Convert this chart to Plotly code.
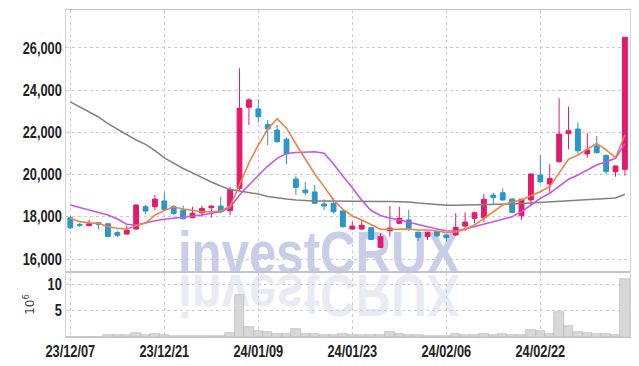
import plotly.graph_objects as go

dates = ["23/12/07", "23/12/08", "23/12/11", "23/12/12", "23/12/13", "23/12/14", "23/12/15",
         "23/12/18", "23/12/19", "23/12/20", "23/12/21", "23/12/22", "23/12/26", "23/12/27",
         "23/12/28", "24/01/02", "24/01/03", "24/01/04", "24/01/05", "24/01/08", "24/01/09",
         "24/01/10", "24/01/11", "24/01/12", "24/01/15", "24/01/16", "24/01/17", "24/01/18",
         "24/01/19", "24/01/22", "24/01/23", "24/01/24", "24/01/25", "24/01/26", "24/01/29",
         "24/01/30", "24/01/31", "24/02/01", "24/02/02", "24/02/05", "24/02/06", "24/02/07",
         "24/02/08", "24/02/13", "24/02/14", "24/02/15", "24/02/16", "24/02/19", "24/02/20",
         "24/02/21", "24/02/22", "24/02/23", "24/02/26", "24/02/27", "24/02/28", "24/02/29",
         "24/03/04", "24/03/05", "24/03/06", "24/03/07"]

open_ = [17950, 17640, 17580, 17720, 17670, 17250, 17180, 17420, 18480, 18480,
         18750, 18480, 18320, 17960, 18190, 18430, 18510, 18290, 19350, 23190,
         23110, 22380, 22110, 21680, 19790, 19270, 19180, 18610, 18640, 18280,
         17420, 17420, 17480, 16550, 17340, 17690, 17850, 17270, 17060, 17290,
         17140, 17140, 17560, 17930, 17960, 19030, 19140, 18840, 18050, 18800,
         19980, 19550, 20610, 21940, 22160, 20980, 21360, 20910, 20140, 20250]
high = [18040, 17700, 17860, 17750, 17700, 17330, 17580, 18580, 18570, 19030,
        19160, 18560, 18530, 18480, 18530, 18540, 18950, 19430, 25040, 23620,
        23570, 22590, 22350, 21760, 19950, 19660, 19510, 18830, 18880, 18290,
        17770, 17880, 17530, 17220, 18510, 18480, 18320, 17300, 17300, 17340,
        17180, 18170, 18210, 18250, 19070, 19140, 19350, 18890, 18860, 20050,
        20930, 20490, 23620, 23220, 22480, 21960, 21830, 20960, 20430, 26510]
low = [17420, 17520, 17550, 17410, 17050, 17040, 17160, 17380, 18130, 18320,
       18320, 18080, 17870, 17920, 18000, 17960, 18180, 18070, 19270, 22350,
       22460, 21400, 21510, 20490, 19030, 19030, 18600, 18320, 18160, 17490,
       17380, 17380, 16900, 16520, 17060, 17650, 17330, 16870, 16900, 17040,
       16820, 17090, 17330, 17690, 17770, 18560, 18750, 18160, 17850, 18560,
       19590, 19110, 20570, 21200, 20980, 20800, 20990, 20030, 19900, 19950]
close = [17480, 17600, 17670, 17640, 17060, 17120, 17370, 18560, 18270, 18840,
         18350, 18160, 17910, 18170, 18400, 18510, 18240, 19300, 23140, 23540,
         22740, 22160, 21560, 20980, 19390, 19140, 18640, 18510, 18240, 17530,
         17560, 17600, 16930, 17060, 17470, 17930, 17460, 17030, 17270, 17100,
         17010, 17500, 17750, 18190, 18830, 18910, 18800, 18210, 18830, 20030,
         19660, 19820, 21920, 22080, 21130, 21170, 21040, 20140, 20410, 26510]

ma_short = [17930, 17770, 17720, 17690, 17530, 17455, 17420, 17580, 17700, 18080,
            18300, 18460, 18370, 18290, 18240, 18240, 18275, 18500, 19550, 20550,
            21400, 22150, 22650, 22200, 21450, 20720, 20030, 19430, 18800, 18350,
            18040, 17850, 17610, 17410, 17410, 17430, 17420, 17375, 17375, 17330,
            17250, 17280, 17410, 17610, 17930, 18240, 18560, 18700, 18800, 19000,
            19190, 19430, 20060, 20720, 20930, 21200, 21480, 21170, 20800, 21880]
ma_mid = [18560, 18450, 18320, 18210, 18085, 17895, 17645, 17610, 17720, 17815,
          17880, 17930, 17967, 18040, 18085, 18166, 18242, 18441, 19033, 19507,
          19981, 20407, 20772, 21000, 21047, 21071, 21085, 21009, 20502, 19920,
          19380, 18780, 18298, 18061, 17929, 17848, 17739, 17611, 17502, 17422,
          17341, 17327, 17422, 17531, 17659, 17767, 17881, 18005, 18242, 18559,
          18876, 19114, 19426, 19777, 19981, 20218, 20455, 20611, 20772, 21483]
ma_long = [23450, 23200, 22970, 22730, 22420, 22160, 21880, 21640, 21430, 21140,
           20790, 20530, 20290, 20080, 19860, 19650, 19460, 19290, 19220, 19150,
           19080, 18960, 18890, 18840, 18800, 18770, 18750, 18750, 18740, 18740,
           18730, 18730, 18720, 18720, 18720, 18715, 18700, 18650, 18610, 18570,
           18545, 18545, 18550, 18560, 18570, 18580, 18590, 18605, 18625, 18650,
           18680, 18700, 18725, 18750, 18770, 18800, 18820, 18850, 18890, 19070]

volume = [0.05, 0.05, 0.05, 0.05, 0.3, 0.3, 0.3, 0.75, 0.3, 0.55,
          0.3, 0.2, 0.2, 0.2, 0.2, 0.2, 0.2, 0.75, 8.0, 1.8,
          1.2, 0.9, 0.55, 0.55, 1.5, 0.55, 0.5, 0.35, 0.3, 0.5,
          0.35, 0.3, 0.3, 0.3, 0.9, 0.6, 0.3, 0.3, 0.1, 0.1,
          0.1, 0.5, 0.35, 0.35, 0.6, 0.35, 0.5, 0.3, 0.3, 1.4,
          1.2, 0.5, 4.75, 2.0, 1.0, 0.75, 0.55, 0.5, 0.35, 11.05]

tick_idx = [0, 10, 20, 30, 40, 50]
tick_dates = [dates[i] for i in tick_idx]
price_ticks = [16000, 18000, 20000, 22000, 24000, 26000]
vol_ticks = [5, 10]

UP = "#e5196b"
DOWN = "#2b96c8"
GRID = "#c9cbdc"
AXLINE = "#d2d3dc"
TICKFONT = dict(family="Liberation Sans, Arial", size=16, color="#222", weight="bold")

fig = go.Figure()
fig.add_trace(go.Scatter(x=dates, y=ma_long, mode="lines",
                         line=dict(color="#808080", width=1.5), xaxis="x", yaxis="y",
                         showlegend=False, hoverinfo="skip"))
fig.add_trace(go.Scatter(x=dates, y=ma_mid, mode="lines",
                         line=dict(color="#c657e2", width=1.6), xaxis="x", yaxis="y",
                         showlegend=False, hoverinfo="skip"))
fig.add_trace(go.Scatter(x=dates, y=ma_short, mode="lines",
                         line=dict(color="#ef8148", width=1.6), xaxis="x", yaxis="y",
                         showlegend=False, hoverinfo="skip"))
fig.add_trace(go.Candlestick(x=dates, open=open_, high=high, low=low, close=close,
                             increasing=dict(line=dict(color=UP, width=1), fillcolor=UP),
                             decreasing=dict(line=dict(color=DOWN, width=1), fillcolor=DOWN),
                             whiskerwidth=0, xaxis="x", yaxis="y", showlegend=False))
fig.add_trace(go.Bar(x=dates, y=volume, xaxis="x2", yaxis="y2",
                     marker=dict(color="rgba(212,212,212,0.9)",
                                 line=dict(color="#b4b4b4", width=0.6)),
                     showlegend=False, hoverinfo="skip"))

split = 65 / 327

common_x = dict(type="category", range=[-0.46, 59.54], tickmode="array",
                tickvals=tick_dates, showgrid=True, gridcolor=GRID, griddash="dot",
                gridwidth=1, showline=True, mirror=True, zeroline=False, ticks="",
                automargin=False)

fig.update_layout(
    width=639, height=366,
    margin=dict(l=66, r=9, t=10, b=29, autoexpand=False),
    paper_bgcolor="white", plot_bgcolor="white",
    bargap=0, boxgap=0.27,
    xaxis=dict(**common_x, anchor="y", domain=[0, 1], showticklabels=False,
               linecolor="#c4c4c8", rangeslider=dict(visible=False)),
    xaxis2=dict(**common_x, anchor="y2", domain=[0, 1], matches="x",
                ticktext=tick_dates, showticklabels=True, linecolor="#c4c4c8",
                tickfont=TICKFONT),
    yaxis=dict(domain=[split, 1], range=[15384, 27800], tickmode="array",
               tickvals=price_ticks, tickformat=",", showgrid=True, gridcolor=GRID,
               griddash="dot", showline=True, mirror=True, linecolor=AXLINE,
               zeroline=False, ticks="", tickfont=TICKFONT, automargin=False),
    yaxis2=dict(domain=[0, split], range=[0, 12.3], tickmode="array", tickvals=vol_ticks,
                showgrid=True, gridcolor=GRID, griddash="dot", showline=True, mirror=True,
                linecolor=AXLINE, zeroline=False, ticks="", tickfont=TICKFONT,
                automargin=False,
                title=dict(text="10<sup>6</sup>", standoff=6,
                           font=dict(family="DejaVu Sans", size=12, color="#444"))),
    annotations=[
        dict(text="<b>investCRUX</b>", xref="paper", yref="paper", x=0.447, y=0.258,
             xanchor="center", yanchor="middle", showarrow=False,
             font=dict(family="Liberation Sans, Arial", size=60,
                       color="rgba(186,194,226,0.8)")),
        dict(text="<b>investCRUX</b>", xref="paper", yref="paper", x=0.447, y=0.128,
             xanchor="center", yanchor="middle", showarrow=False,
             font=dict(family="Liberation Sans, Arial", size=60,
                       color="rgba(205,210,232,0.45)")),
    ],
)

post = """
document.body.style.margin = '0';
document.body.style.padding = '0';
var gd = document.getElementById('{plot_id}');
function squeezeAttr(el, where, f) {
  var bb = el.getBBox();
  var ox = (where === 'right') ? (bb.x + bb.width) : (bb.x + bb.width / 2);
  var tr = el.getAttribute('transform') || '';
  el.setAttribute('transform', tr + ' translate(' + ox + ',0) scale(' + f + ',1) translate(' + (-ox) + ',0)');
}
try {
  var yt = gd.querySelectorAll('.cartesianlayer .yaxislayer-above text');
  for (var i = 0; i < yt.length; i++) { squeezeAttr(yt[i], 'right', 0.8); }
  var xt = gd.querySelectorAll('.cartesianlayer .xaxislayer-above text');
  for (var i = 0; i < xt.length; i++) { squeezeAttr(xt[i], 'center', 0.8); }
} catch (e) {}
try {
  var below = gd.querySelector('.layer-below');
  var anns = gd.querySelectorAll('.infolayer g.annotation');
  var list = [];
  for (var k = 0; k < anns.length; k++) { list.push(anns[k]); }
  for (var k = 0; k < list.length; k++) {
    var a = list[k];
    var txt = a.querySelector('text');
    if (txt) { squeezeAttr(txt, 'center', 0.82); }
    if (k === 1) {
      var t = a.querySelector('g.annotation-text-g');
      var bb = t.getBBox();
      var cy = bb.y + bb.height / 2;
      var tr = t.getAttribute('transform') || '';
      t.setAttribute('transform', tr + ' translate(0,' + (2 * cy) + ') scale(1,-1)');
    }
    if (below) { below.appendChild(a); }
  }
} catch (e) {}
"""

fig.write_html("out.html", post_script=post, config={"displayModeBar": False})
